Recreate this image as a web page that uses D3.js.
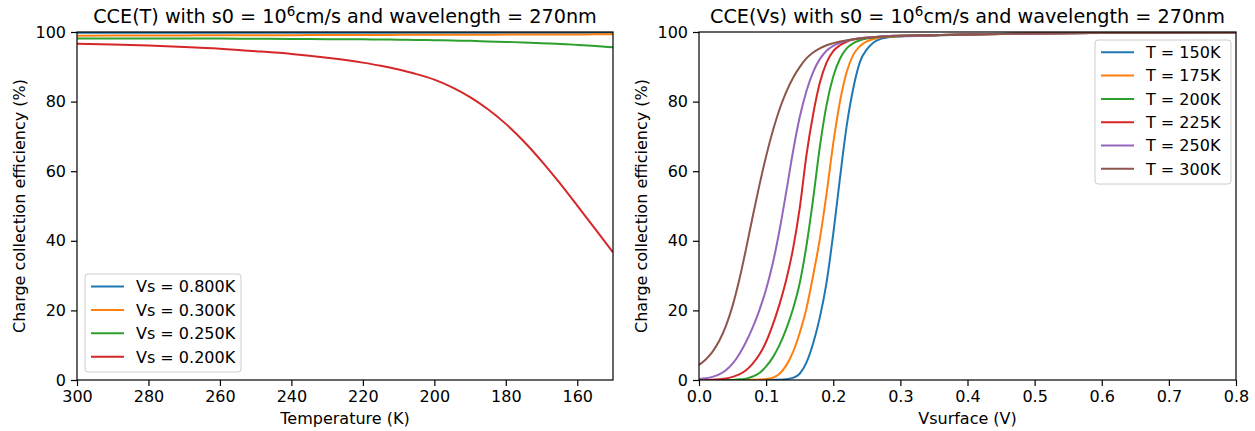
<!DOCTYPE html>
<html>
<head>
<meta charset="utf-8">
<script src="https://cdn.jsdelivr.net/npm/d3@7"></script>
<style>
  html, body { margin: 0; padding: 0; background: #fff; }
  svg { display: block; font-family: "DejaVu Sans", sans-serif; }
  .tick text { font-size: 16px; fill: #000; }
  .tick line { stroke: #000; stroke-width: 1.2; }
  .domain { display: none; }
</style>
</head>
<body>
<svg id="fig" width="1255" height="431"></svg>
<script>
// ---- CCE versus temperature, one curve per surface potential ----
const temps = [300, 290, 280, 270, 260, 250, 240, 230, 220, 215, 210, 205, 200, 195, 190, 185, 180, 175, 170, 165, 160, 155, 150];
const vsLabels = ["Vs = 0.800K", "Vs = 0.300K", "Vs = 0.250K", "Vs = 0.200K"];
const cceVs800 = [99.75, 99.75, 99.75, 99.75, 99.75, 99.75, 99.75, 99.75, 99.75, 99.75, 99.75, 99.75, 99.75, 99.75, 99.75, 99.75, 99.75, 99.75, 99.75, 99.75, 99.75, 99.75, 99.75];
const cceVs300 = [98.95, 98.98, 99.0, 99.03, 99.05, 99.08, 99.1, 99.13, 99.15, 99.16, 99.18, 99.19, 99.2, 99.21, 99.23, 99.24, 99.25, 99.27, 99.28, 99.29, 99.3, 99.32, 99.33];
const cceVs250 = [98.1, 98.1, 98.1, 98.1, 98.1, 98.05, 98.0, 97.95, 97.9, 97.85, 97.8, 97.73, 97.65, 97.55, 97.45, 97.3, 97.15, 97.0, 96.8, 96.55, 96.3, 96.0, 95.6];
const cceVs200 = [96.6, 96.4, 96.1, 95.7, 95.2, 94.5, 93.7, 92.6, 91.2, 90.3, 89.2, 87.9, 86.3, 84.1, 81.3, 77.8, 73.6, 68.6, 62.9, 56.7, 50.1, 43.4, 36.7];
const tempTicks = [300, 280, 260, 240, 220, 200, 180, 160];

// ---- CCE versus surface potential, one curve per temperature ----
const vsurf = [0.00, 0.01, 0.02, 0.03, 0.04, 0.05, 0.06, 0.07, 0.08, 0.09,
               0.10, 0.11, 0.12, 0.13, 0.14, 0.15, 0.16, 0.17, 0.18, 0.19,
               0.20, 0.21, 0.22, 0.23, 0.24, 0.25, 0.26, 0.27, 0.28, 0.29,
               0.30, 0.35, 0.40, 0.50, 0.60, 0.70, 0.80];
const tLabels = ["T = 150K", "T = 175K", "T = 200K", "T = 225K", "T = 250K", "T = 300K"];
const cceT150 = [0, 0, 0, 0, 0, 0, 0, 0, 0, 0,
                 0.02, 0.05, 0.1, 0.25, 0.6, 1.8, 5.0, 10.5, 18, 28,
                 42, 58, 73, 84, 91.5, 95, 97, 98, 98.4, 98.6,
                 98.7, 99.0, 99.3, 99.6, 99.75, 99.85, 99.9];
const cceT175 = [0, 0, 0, 0, 0, 0, 0, 0, 0.05, 0.15,
                 0.3, 0.7, 1.8, 4.2, 8, 13.5, 20.5, 30, 40.5, 53.5,
                 68, 80, 88.5, 93.5, 96, 97.3, 98.0, 98.4, 98.6, 98.7,
                 98.8, 99.05, 99.3, 99.6, 99.75, 99.85, 99.9];
const cceT200 = [0, 0, 0, 0, 0, 0, 0.2, 0.4, 1.0, 2.0,
                 3.9, 6.5, 10.1, 14.7, 20.4, 27.8, 38.5, 52, 67, 79,
                 87.2, 92.3, 95.3, 96.8, 97.6, 98.1, 98.4, 98.6, 98.7, 98.8,
                 98.9, 99.1, 99.3, 99.6, 99.75, 99.85, 99.9];
const cceT225 = [0.0, 0.0, 0.1, 0.2, 0.4, 0.9, 1.6, 2.8, 4.7, 7.3,
                 11, 15.9, 21.8, 28.8, 37.6, 49.3, 64.5, 76.3, 85.4, 91.2,
                 94.5, 96.2, 97.2, 97.8, 98.2, 98.4, 98.6, 98.7, 98.8, 98.9,
                 98.9, 99.1, 99.3, 99.6, 99.75, 99.85, 99.9];
const cceT250 = [0.3, 0.5, 0.9, 1.6, 2.8, 4.7, 7.4, 10.9, 15.1, 20.1,
                 26.1, 33.6, 43.1, 54.1, 65.6, 75.5, 83, 88.5, 92.2, 94.6,
                 96, 96.9, 97.5, 97.9, 98.2, 98.4, 98.6, 98.7, 98.8, 98.9,
                 98.9, 99.1, 99.3, 99.6, 99.75, 99.85, 99.9];
const cceT300 = [4.3, 5.9, 8.1, 11.2, 15.5, 21.3, 28.8, 37.6, 47.0, 56.0,
                 64.3, 71.6, 77.8, 82.8, 86.8, 89.9, 92.4, 94.1, 95.3, 96.2,
                 96.8, 97.3, 97.6, 97.9, 98.1, 98.3, 98.5, 98.6, 98.7, 98.8,
                 98.9, 99.1, 99.3, 99.55, 99.7, 99.8, 99.85];
const vTicks = [0.0, 0.1, 0.2, 0.3, 0.4, 0.5, 0.6, 0.7, 0.8];

const yTicks = [0, 20, 40, 60, 80, 100];
const palette = ["#1f77b4", "#ff7f0e", "#2ca02c", "#d62728", "#9467bd", "#8c564b"];

const svg = d3.select("#fig");
svg.append("rect").attr("width", 1255).attr("height", 431).attr("fill", "#fff");

function panel(cfg) {
  const { left, right, top, bottom, xDomain, xTickValues, xFormat, xs, series, labels,
          title, xLabel, legend, id } = cfg;
  const x = d3.scaleLinear().domain(xDomain).range([left, right]);
  const y = d3.scaleLinear().domain([0, 100]).range([bottom, top]);
  const g = svg.append("g");

  g.append("clipPath").attr("id", id)
    .append("rect").attr("x", left).attr("y", top)
    .attr("width", right - left).attr("height", bottom - top);

  const line = d3.line()
    .x((d, i) => x(xs[i]))
    .y(d => y(d))
    .curve(d3.curveMonotoneX);

  const lines = g.append("g").attr("clip-path", `url(#${id})`);
  series.forEach((s, k) => {
    lines.append("path").attr("d", line(s))
      .attr("fill", "none").attr("stroke", palette[k])
      .attr("stroke-width", 2).attr("stroke-linejoin", "round");
  });

  // axes
  g.append("g").attr("transform", `translate(0,${bottom})`)
    .call(d3.axisBottom(x).tickValues(xTickValues).tickFormat(xFormat).tickSize(6).tickPadding(5));
  g.append("g").attr("transform", `translate(${left},0)`)
    .call(d3.axisLeft(y).tickValues(yTicks).tickFormat(d3.format("d")).tickSize(6).tickPadding(5));
  g.selectAll(".tick text").attr("font-family", "DejaVu Sans");

  // frame
  g.append("rect").attr("x", left).attr("y", top)
    .attr("width", right - left).attr("height", bottom - top)
    .attr("fill", "none").attr("stroke", "#000").attr("stroke-width", 1.2);

  // title with superscript exponent
  const t = g.append("text").attr("x", (left + right) / 2).attr("y", top - 9)
    .attr("text-anchor", "middle").attr("font-size", 19.2).attr("fill", "#000");
  t.append("tspan").text(title[0]);
  t.append("tspan").attr("dy", -7).attr("font-size", 13.5).text(title[1]);
  t.append("tspan").attr("dy", 7).text(title[2]);

  g.append("text").attr("x", (left + right) / 2).attr("y", bottom + 44)
    .attr("text-anchor", "middle").attr("font-size", 16).attr("fill", "#000").text(xLabel);

  g.append("text")
    .attr("transform", `translate(${left - 52},${(top + bottom) / 2}) rotate(-90)`)
    .attr("text-anchor", "middle").attr("font-size", 16).attr("fill", "#000")
    .text("Charge collection efficiency (%)");

  // legend
  const lg = g.append("g");
  lg.append("rect").attr("x", legend.x).attr("y", legend.y)
    .attr("width", legend.w).attr("height", legend.h).attr("rx", 3)
    .attr("fill", "#fff").attr("fill-opacity", 0.8)
    .attr("stroke", "#cccccc").attr("stroke-width", 1);
  labels.forEach((lab, k) => {
    const cy = legend.y + legend.first + k * legend.step;
    lg.append("line").attr("x1", legend.x + 6).attr("x2", legend.x + 39)
      .attr("y1", cy).attr("y2", cy)
      .attr("stroke", palette[k]).attr("stroke-width", 2);
    lg.append("text").attr("x", legend.x + 51).attr("y", cy + 5.8)
      .attr("font-size", 16).attr("fill", "#000").text(lab);
  });
}

panel({
  id: "clipT",
  left: 77, right: 613, top: 32, bottom: 380,
  xDomain: [300, 150], xTickValues: tempTicks, xFormat: d3.format("d"),
  xs: temps,
  series: [cceVs800, cceVs300, cceVs250, cceVs200],
  labels: vsLabels,
  title: ["CCE(T) with s0 = 10", "6", "cm/s and wavelength = 270nm"],
  xLabel: "Temperature (K)",
  legend: { x: 85, y: 274, w: 156, h: 98, first: 12.5, step: 23.4 }
});

panel({
  id: "clipV",
  left: 699, right: 1236, top: 32, bottom: 380,
  xDomain: [0, 0.8], xTickValues: vTicks, xFormat: d3.format(".1f"),
  xs: vsurf,
  series: [cceT150, cceT175, cceT200, cceT225, cceT250, cceT300],
  labels: tLabels,
  title: ["CCE(Vs) with s0 = 10", "6", "cm/s and wavelength = 270nm"],
  xLabel: "Vsurface (V)",
  legend: { x: 1095, y: 40, w: 136, h: 144, first: 12.3, step: 23.3 }
});
</script>
</body>
</html>
